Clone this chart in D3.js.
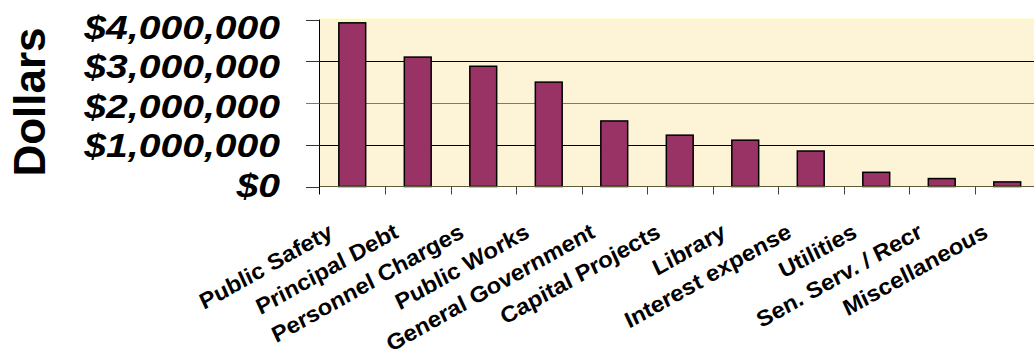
<!DOCTYPE html>
<html lang="en">
<head>
<meta charset="UTF-8">
<title>Expenditures by Category</title>
<script src="https://d3js.org/d3.v7.min.js"></script>
<style>
body { margin: 0; background: #fff; }
svg { display: block; font-family: Arial, "Liberation Sans", sans-serif; }
.tick-label { font-weight: bold; font-style: italic; font-size: 34px; }
.cat-label { font-weight: bold; font-style: italic; font-size: 21.5px; }
</style>
</head>
<body>
<svg width="1034" height="358"></svg>
<script>
// Data
const categories = ["Public Safety", "Principal Debt", "Personnel Charges", "Public Works",
  "General Government", "Capital Projects", "Library", "Interest expense",
  "Utilities", "Sen. Serv. / Recr", "Miscellaneous"];
const amounts = [3920000, 3100000, 2880000, 2500000, 1570000, 1230000,
  1110000, 850000, 340000, 190000, 110000];
const tickValues = [0, 1000000, 2000000, 3000000, 4000000];

const svg = d3.select("svg");

const plotLeft = 319.5, plotTop = 19.5, plotBottom = 186.5, step = 65.5;

const x = d3.scaleBand()
    .domain(categories)
    .range([plotLeft, plotLeft + step * categories.length])
    .paddingInner(0.59)
    .paddingOuter(0.295);

const y = d3.scaleLinear()
    .domain([0, 4000000])
    .range([plotBottom, plotTop]);

// tick labels in the original sit a little tighter than the ticks
const yLabel = d3.scaleLinear()
    .domain([0, 4000000])
    .range([197, 38.5]);

const fmt = d3.format("$,.0f");

// plot area
svg.append("rect")
    .attr("x", plotLeft).attr("y", plotTop)
    .attr("width", 1034 - plotLeft).attr("height", plotBottom - plotTop)
    .attr("fill", "#fdf4d8");

svg.append("line")
    .attr("x1", plotLeft).attr("x2", 1034)
    .attr("y1", plotTop).attr("y2", plotTop)
    .attr("stroke", "#ffff8a").attr("stroke-width", 1.5);

// gridlines
svg.append("g")
  .selectAll("line")
  .data(tickValues.filter(d => d > 0 && d < 4000000))
  .enter().append("line")
    .attr("x1", plotLeft).attr("x2", 1034)
    .attr("y1", d => Math.round(y(d)) + 0.5)
    .attr("y2", d => Math.round(y(d)) + 0.5)
    .attr("stroke", d => d === 2000000 ? "#7a7a7a" : "#000")
    .attr("stroke-width", 1);

// bars
svg.append("g")
  .selectAll("rect")
  .data(amounts)
  .enter().append("rect")
    .attr("x", (d, i) => x(categories[i]))
    .attr("y", d => y(d))
    .attr("width", x.bandwidth())
    .attr("height", d => plotBottom - y(d))
    .attr("fill", "#993366")
    .attr("stroke", "#000")
    .attr("stroke-width", 1.5);

// baseline
svg.append("line")
    .attr("x1", plotLeft).attr("x2", 1034)
    .attr("y1", plotBottom).attr("y2", plotBottom)
    .attr("stroke", "#5c5c3d").attr("stroke-width", 1.2);

// category ticks
svg.append("g")
  .selectAll("line")
  .data(categories.slice(1))
  .enter().append("line")
    .attr("x1", d => Math.round(x(d) - x.step() * x.paddingInner() / 2) + 0.5)
    .attr("x2", d => Math.round(x(d) - x.step() * x.paddingInner() / 2) + 0.5)
    .attr("y1", plotBottom).attr("y2", plotBottom + 8)
    .attr("stroke", "#444");

// value axis line and ticks
svg.append("line")
    .attr("x1", plotLeft).attr("x2", plotLeft)
    .attr("y1", plotTop).attr("y2", plotBottom + 8)
    .attr("stroke", "#000");

svg.append("g")
  .selectAll("line")
  .data(tickValues)
  .enter().append("line")
    .attr("x1", 306).attr("x2", plotLeft)
    .attr("y1", d => Math.round(y(d)) + 0.5)
    .attr("y2", d => Math.round(y(d)) + 0.5)
    .attr("stroke", d => d === 2000000 ? "#7a7a7a" : "#333");

// value labels
svg.append("g")
  .selectAll("text")
  .data(tickValues)
  .enter().append("text")
    .attr("class", "tick-label")
    .attr("text-anchor", "end")
    .attr("transform", d => "translate(280," + yLabel(d) + ") scale(1.15,1)")
    .text(d => fmt(d));

// category labels
svg.append("g")
  .selectAll("text")
  .data(categories)
  .enter().append("text")
    .attr("class", "cat-label")
    .attr("text-anchor", "end")
    .attr("transform", d => "translate(" + (x(d) + x.bandwidth() / 2 - 17) + ",236) scale(1.15,1) rotate(-33)")
    .text(d => d);

// axis title
svg.append("text")
    .attr("transform", "translate(45,102) rotate(-90)")
    .attr("text-anchor", "middle")
    .attr("font-weight", "bold")
    .attr("font-size", 44)
    .text("Dollars");
</script>
</body>
</html>
